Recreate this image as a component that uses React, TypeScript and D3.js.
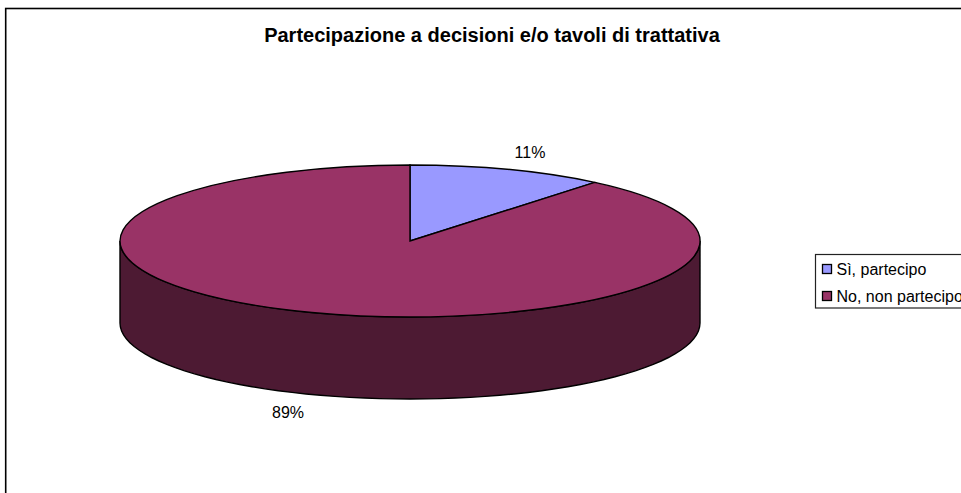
import React from "react";
import * as d3 from "d3";

const titleText = "Partecipazione a decisioni e/o tavoli di trattativa";
const categories = ["Sì, partecipo", "No, non partecipo"];
const shares = [11, 89];
const topColors = ["#9999ff", "#993366"];
const wallColor = "#4d1a33";

const width = 961;
const height = 493;
const cx = 410;
const cy = 241;
const rx = 290;
const ry = 76;
const depth = 82;
const FONT = "'Liberation Sans', Arial, sans-serif";

const pie = d3.pie<number>().sort(null).startAngle(0).endAngle(2 * Math.PI);
const arcs = pie(shares);
const unitArc = d3.arc<d3.PieArcDatum<number>>().innerRadius(0).outerRadius(1);

// Point on the tilted rim for a clockwise angle measured from twelve o'clock.
const rimX = d3.scaleLinear().domain([-1, 1]).range([cx - rx, cx + rx]);
const rimY = d3.scaleLinear().domain([-1, 1]).range([cy - ry, cy + ry]);

// The visible wall: the lower half of the rim and the same half shifted down.
function wallPath() {
  const p = d3.path();
  p.moveTo(rimX(-1), rimY(0));
  p.lineTo(rimX(-1), rimY(0) + depth);
  d3.range(0, 181, 3).forEach((deg) => {
    const t = (deg * Math.PI) / 180;
    p.lineTo(rimX(-Math.cos(t)), rimY(Math.sin(t)) + depth);
  });
  p.lineTo(rimX(1), rimY(0));
  d3.range(0, 181, 3).forEach((deg) => {
    const t = (deg * Math.PI) / 180;
    p.lineTo(rimX(Math.cos(t)), rimY(Math.sin(t)));
  });
  p.closePath();
  return p.toString();
}

export default function App() {
  return (
    <svg
      width={width}
      height={height}
      style={{ position: "absolute", left: 0, top: 0, background: "#fff" }}
      fontFamily={FONT}
    >
      <rect x={5.7} y={8.5} width={1000} height={600} fill="#fff" stroke="#000" strokeWidth={1.6} />
      <text x={492} y={42} textAnchor="middle" fontSize={20} fontWeight="bold" fill="#000">
        {titleText}
      </text>

      <path d={wallPath()} fill={wallColor} stroke="#000" strokeWidth={1.4} />
      <g transform={`translate(${cx},${cy}) scale(${rx},${ry})`}>
        {arcs.map((a, i) => (
          <path
            key={categories[i]}
            d={unitArc(a) ?? ""}
            fill={topColors[i]}
            stroke="#000"
            strokeWidth={1.4}
            vectorEffect="non-scaling-stroke"
          />
        ))}
      </g>

      <text x={530} y={158} textAnchor="middle" fontSize={16} fill="#000">{`${shares[0]}%`}</text>
      <text x={288} y={418} textAnchor="middle" fontSize={16} fill="#000">{`${shares[1]}%`}</text>

      <rect x={815.5} y={254.5} width={200} height={53.5} fill="#fff" stroke="#222" strokeWidth={1.2} />
      {categories.map((c, i) => (
        <g key={c} transform={`translate(0,${i * 27})`}>
          <rect x={822.5} y={264.5} width={9} height={9} fill={topColors[i]} stroke="#000" strokeWidth={1.3} />
          <text x={836.5} y={275} fontSize={16} fill="#000">{c}</text>
        </g>
      ))}
    </svg>
  );
}
